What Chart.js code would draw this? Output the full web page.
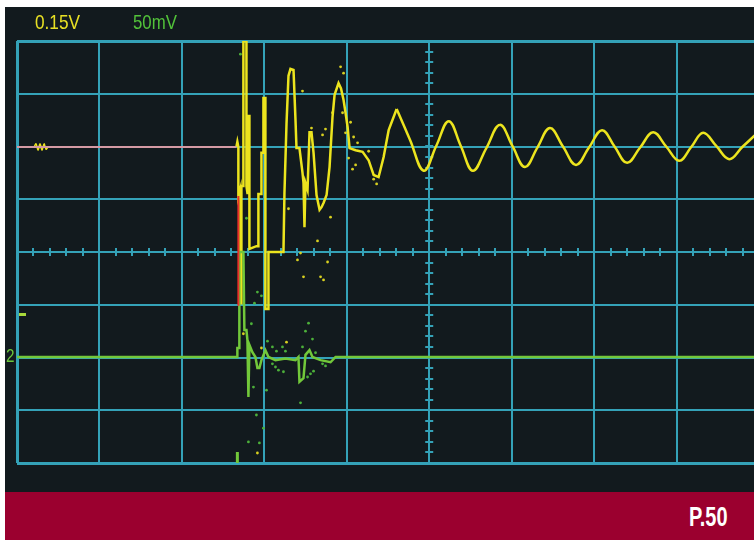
<!DOCTYPE html>
<html lang="en">
<head>
<meta charset="UTF-8">
<title>Scope capture</title>
<style>
    html, body { margin: 0; padding: 0; background: #ffffff; }
    .page { position: relative; width: 754px; height: 540px; overflow: hidden; }
    .screen { position: absolute; left: 5px; top: 7px; width: 749px; height: 485px; background: #121a1e; }
    .band { position: absolute; left: 5px; top: 492px; width: 749px; height: 48px; background: #9b002f; }
    #scope { position: absolute; left: 0; top: 0; }
    .lbl { position: absolute; font-family: "Liberation Sans", Arial, sans-serif; transform-origin: left top; white-space: nowrap; }
    .ch1 { left: 35px; top: 10px; font-size: 21px; color: #e8e024; transform: scaleX(0.82); }
    .ch2 { left: 133px; top: 10px; font-size: 21px; color: #52c23a; transform: scaleX(0.8); }
    .page-no { left: 689px; top: 502px; font-size: 27px; font-weight: bold; color: #ffffff; transform: scaleX(0.74); }
    .gnd { left: 6px; top: 346px; font-size: 18px; color: #6cc83c; transform: scaleX(0.85); }
    .trig { position: absolute; left: 19px; top: 313px; width: 7px; height: 3px; background: #a8d83a; }
</style>
</head>
<body>
<div class="page">
    <div class="screen"></div>
    <div class="band"></div>
    <canvas id="scope" width="763" height="492"></canvas>
    <span class="lbl ch1">0.15V</span>
    <span class="lbl ch2">50mV</span>
    <span class="lbl gnd">2</span>
    <div class="trig"></div>
    <span class="lbl page-no">P.50</span>
</div>

<script src="https://cdn.jsdelivr.net/npm/chart.js@4.4.1/dist/chart.umd.min.js"></script>
<script>
    // time in divisions, level in divisions
    const flatT = [0, 2.661];
    const flatV = [1.99, 1.99];

    const rippleT = [0.207, 0.231, 0.255, 0.279, 0.304, 0.328, 0.352, 0.377];
    const rippleV = [1.99, 2.05, 1.93, 2.05, 1.93, 2.05, 1.95, 1.99];

    // channel 1 burst
    const burstT = [2.661, 2.673, 2.685, 2.685, 2.710, 2.710, 2.722, 2.722, 2.746, 2.746, 2.783, 2.783,
        2.795, 2.807, 2.807, 2.819, 2.819, 2.904, 2.928, 2.928, 2.965, 2.965, 2.989, 2.989, 3.013, 3.013,
        3.050, 3.050, 3.232, 3.244, 3.269, 3.293, 3.317, 3.354, 3.378, 3.390, 3.426, 3.463, 3.475, 3.487,
        3.499, 3.524, 3.548, 3.572, 3.597, 3.633, 3.670, 3.694, 3.718, 3.755, 3.791, 3.827, 3.852, 3.900,
        3.930, 3.961, 3.985, 4.010, 4.034, 4.107, 4.192, 4.265, 4.326, 4.386, 4.447, 4.508, 4.605];
    const burstV = [1.99, 2.09, 1.99, 1.06, 1.21, -0.97, -0.97, 1.25, 1.25, 4.0, 4.0, 1.25,
        1.12, 1.12, 2.58, 2.58, 0.06, 0.11, 0.11, 1.10, 1.10, 1.88, 1.88, 2.92, 2.92, -1.08,
        -1.08, 0, 0, 1.12, 2.43, 3.34, 3.47, 3.45, 2.50, 1.97, 1.97, 1.50, 1.31, 0.47,
        1.31, 1.18, 2.27, 2.27, 1.88, 1.08, 0.80, 0.85, 0.93, 1.08, 1.61, 2.56, 2.98, 3.20,
        3.10, 2.88, 2.64, 2.37, 1.97, 1.93, 1.90, 1.74, 1.46, 1.42, 1.80, 2.31, 2.71];

    // channel 1 ringing
    const ringT = [4.605, 4.769, 4.933, 5.085, 5.237, 5.383, 5.529, 5.693, 5.857, 6.009, 6.160, 6.312,
        6.464, 6.622, 6.780, 6.938, 7.096, 7.248, 7.400, 7.558, 7.716, 7.874, 8.032, 8.178, 8.323,
        8.481, 8.639, 8.797, 8.955];
    const ringV = [2.71, 2.12, 1.54, 2.01, 2.48, 2.01, 1.54, 1.97, 2.41, 2.01, 1.61, 1.98,
        2.35, 2.00, 1.65, 1.98, 2.31, 2.00, 1.69, 1.98, 2.27, 2.00, 1.73, 1.99, 2.26,
        2.01, 1.76, 1.99, 2.22];

    const refT = [2.685, 2.685];
    const refV = [1.06, -1.02];

    // channel 2
    const ch2T = [0, 2.661, 2.673, 2.673, 2.697, 2.697, 2.746, 2.758, 2.783, 2.795, 2.807, 2.819, 2.855,
        2.892, 2.916, 2.940, 2.965, 3.013, 3.050, 3.135, 3.256, 3.378, 3.414, 3.426, 3.475, 3.499,
        3.548, 3.584, 3.682, 3.803, 3.864, 9.0];
    const ch2V = [-1.99, -1.99, -1.99, -1.82, -1.82, 0, 0, -1.48, -1.48, -1.67, -2.75, -1.76, -1.90,
        -1.99, -2.20, -2.20, -2.05, -1.86, -1.99, -2.05, -2.02, -2.05, -1.99, -2.46, -2.39, -1.95,
        -1.86, -1.99, -2.05, -2.09, -1.99, -1.99];

    const ch2TailT = [2.673, 2.673];
    const ch2TailV = [-3.79, -4.0];

    // loose samples
    const dots1T = [3.925, 3.961, 3.463, 3.572, 3.742, 3.706, 3.827, 3.949, 4.046, 3.985, 4.083, 4.131,
        4.265, 4.022, 4.107, 4.070, 4.362, 4.326, 3.803, 3.645, 3.402, 3.767, 3.439, 3.475, 3.682,
        3.718, 3.269, 2.965, 2.746, 2.916, 3.293];
    const dots1V = [3.51, 3.39, 3.05, 2.35, 2.33, 2.22, 2.64, 2.64, 2.46, 2.26, 2.18, 2.07,
        1.91, 1.78, 1.65, 1.57, 1.29, 1.38, 0.66, 0.21, -0.15, -0.19, -0.02, -0.47, -0.47,
        -0.53, -1.71, -1.82, -1.55, -3.81, 0.82];

    const dots2T = [2.710, 2.783, 2.916, 2.965, 2.880, 2.843, 3.038, 3.098, 3.147, 3.220, 3.256, 3.536,
        3.499, 3.584, 3.463, 3.621, 3.706, 3.742, 3.597, 3.560, 3.524, 3.098, 3.135, 3.171, 3.232,
        2.868, 3.026, 3.439, 2.904, 2.989, 2.807, 2.940];
    const dots2V = [3.75, 0.64, -0.76, -0.83, -0.97, -1.36, -1.69, -1.80, -1.88, -1.80, -1.88, -1.35,
        -1.50, -1.65, -1.80, -1.91, -2.12, -2.16, -2.26, -2.31, -2.37, -2.12, -2.18, -2.24, -2.27,
        -2.56, -2.62, -2.86, -3.09, -3.34, -3.60, -3.62];

    const xDivs = 9.0;     // visible part of the 10 division screen (right edge is cut off)
    const yDivs = 4;
    const minorStep = 0.2;

    const YELLOW = '#ece41e';
    const GREEN = '#72c83a';
    const GRID = '#34a2b8';

    function pts(t, v) {
        return t.map((x, i) => ({ x: x, y: v[i] }));
    }

    function trace(label, t, v, color, width, tension) {
        return {
            label: label,
            data: pts(t, v),
            borderColor: color,
            borderWidth: width,
            pointRadius: 0,
            tension: tension,
            fill: false
        };
    }

    function samples(label, t, v, color) {
        return {
            label: label,
            data: pts(t, v),
            showLine: false,
            pointRadius: 1.4,
            pointBorderWidth: 0,
            pointBackgroundColor: color
        };
    }

    // minor ticks along the centre cross
    const crossTicks = {
        id: 'crossTicks',
        beforeDatasetsDraw(chart) {
            const ctx = chart.ctx;
            const xs = chart.scales.x;
            const ys = chart.scales.y;
            const cx = xs.getPixelForValue(5);
            const cy = ys.getPixelForValue(0);
            ctx.save();
            ctx.strokeStyle = GRID;
            ctx.lineWidth = 2;
            ctx.beginPath();
            for (let v = -yDivs; v <= yDivs + 1e-6; v += minorStep) {
                const y = Math.round(ys.getPixelForValue(v));
                ctx.moveTo(cx - 4, y);
                ctx.lineTo(cx + 4, y);
            }
            for (let t = 0; t <= xDivs; t += minorStep) {
                const x = Math.round(xs.getPixelForValue(t));
                ctx.moveTo(x, cy - 4);
                ctx.lineTo(x, cy + 4);
            }
            ctx.stroke();
            ctx.restore();
        }
    };

    const ctx = document.getElementById('scope').getContext('2d');
    new Chart(ctx, {
        type: 'line',
        data: {
            datasets: [
                trace('Ref', flatT, flatV, '#d49aa4', 2, 0),
                trace('Ref step', refT, refV, '#e8302a', 2, 0),
                trace('Ch2', ch2T, ch2V, GREEN, 2.5, 0),
                trace('Ch2 tail', ch2TailT, ch2TailV, GREEN, 3, 0),
                trace('Ch1 ripple', rippleT, rippleV, YELLOW, 1.5, 0.3),
                trace('Ch1 burst', burstT, burstV, YELLOW, 2.5, 0),
                trace('Ch1 ringing', ringT, ringV, YELLOW, 2.5, 0.4),
                samples('Ch1 samples', dots1T, dots1V, '#d8d020'),
                samples('Ch2 samples', dots2T, dots2V, '#4cb03a')
            ]
        },
        options: {
            responsive: false,
            animation: false,
            layout: {
                padding: { left: 17, top: 41, right: 0, bottom: 29 }
            },
            scales: {
                x: {
                    type: 'linear',
                    min: 0,
                    max: xDivs,
                    ticks: { display: false, stepSize: 1, includeBounds: false },
                    grid: {
                        color: GRID,
                        drawTicks: false,
                        lineWidth: c => (c.tick && c.tick.value === 0 ? 3 : 2)
                    },
                    border: { display: false }
                },
                y: {
                    type: 'linear',
                    min: -yDivs,
                    max: yDivs,
                    ticks: { display: false, stepSize: 1 },
                    grid: {
                        color: GRID,
                        drawTicks: false,
                        lineWidth: c => (c.tick && Math.abs(c.tick.value) === yDivs ? 3 : 2)
                    },
                    border: { display: false }
                }
            },
            plugins: {
                legend: { display: false },
                tooltip: { enabled: false }
            }
        },
        plugins: [crossTicks]
    });
</script>
</body>
</html>
